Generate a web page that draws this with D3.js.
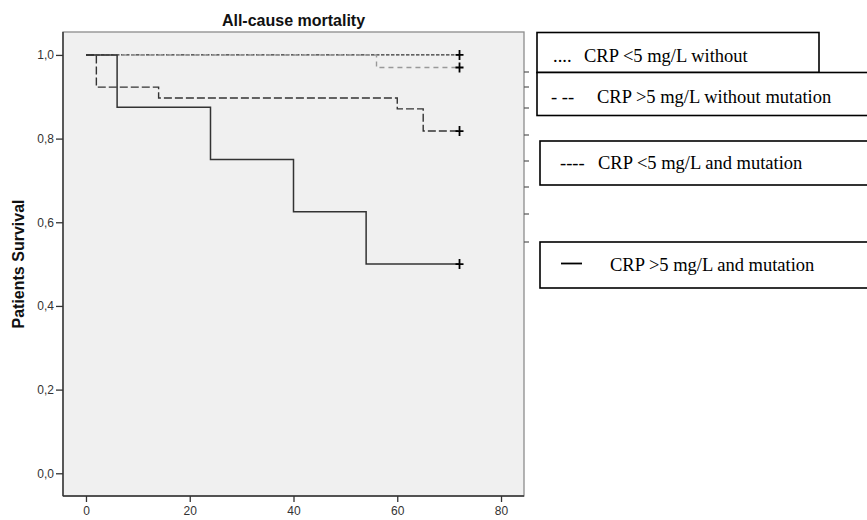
<!DOCTYPE html>
<html>
<head>
<meta charset="utf-8">
<script src="https://cdnjs.cloudflare.com/ajax/libs/d3/7.8.5/d3.min.js"></script>
<style>
  body { margin: 0; background: #fff; }
  svg { display: block; }
</style>
</head>
<body>
<div id="chart"></div>
<script>
var svgWidth = 867;
var svgHeight = 520;

// survival data (months, cumulative survival)
var dottedTime = [0, 72];
var dottedSurv = [1, 1];
var grayTime = [0, 56, 72];
var graySurv = [1, 0.97, 0.97];
var longTime = [0, 2, 14, 60, 65, 72];
var longSurv = [1, 0.923, 0.897, 0.871, 0.818, 0.818];
var solidTime = [0, 6, 24, 40, 54, 72];
var solidSurv = [1, 0.875, 0.75, 0.625, 0.5, 0.5];

var xTicks = [0, 20, 40, 60, 80];
var yTicks = [0, 0.2, 0.4, 0.6, 0.8, 1.0];

var legendPrefixes = ["....", "- --", "----", ""];
var legendLabels = [
  "CRP <5 mg/L without",
  "CRP >5 mg/L without mutation",
  "CRP <5 mg/L and mutation",
  "CRP >5 mg/L and mutation"
];

var plot = { left: 63, right: 524, top: 32, bottom: 496 };

var svg = d3.select("#chart")
  .append("svg")
  .attr("width", svgWidth)
  .attr("height", svgHeight);

var x = d3.scaleLinear()
  .domain([-4.43, 84.43])
  .range([plot.left, plot.right]);

var y = d3.scaleLinear()
  .domain([-0.0543, 1.0548])
  .range([plot.bottom, plot.top]);

// plot background + border
svg.append("rect")
  .attr("x", plot.left)
  .attr("y", plot.top)
  .attr("width", plot.right - plot.left)
  .attr("height", plot.bottom - plot.top)
  .attr("fill", "#f0f0f0")
  .attr("stroke", "#8c8c8c")
  .attr("stroke-width", 1.3);

// axes
var yAxis = d3.axisLeft(y)
  .tickValues(yTicks)
  .tickSize(7)
  .tickPadding(2)
  .tickFormat(d => d3.format(".1f")(d).replace(".", ","));

var xAxis = d3.axisBottom(x)
  .tickValues(xTicks)
  .tickSize(6)
  .tickPadding(4);

var gy = svg.append("g")
  .attr("transform", `translate(${plot.left},0)`)
  .call(yAxis);
gy.select(".domain").remove();
gy.append("line")
  .attr("x1", 0).attr("x2", 0)
  .attr("y1", plot.top).attr("y2", plot.bottom)
  .attr("stroke", "#333").attr("stroke-width", 1.4);

var gx = svg.append("g")
  .attr("transform", `translate(0,${plot.bottom})`)
  .call(xAxis);
gx.select(".domain").remove();
gx.append("line")
  .attr("x1", plot.left).attr("x2", plot.right)
  .attr("y1", 0).attr("y2", 0)
  .attr("stroke", "#333").attr("stroke-width", 1.4);

svg.selectAll(".tick line").attr("stroke", "#333").attr("stroke-width", 1.3);
svg.selectAll(".tick text")
  .attr("font-family", "Liberation Sans, Arial, sans-serif")
  .attr("font-size", "12px")
  .attr("fill", "#333");

// curves
var line = d3.line()
  .x(d => x(d[0]))
  .y(d => y(d[1]))
  .curve(d3.curveStepAfter);

var series = [
  { t: dottedTime, s: dottedSurv, color: "#333", dash: "3.5,1.5", width: 1.2 },
  { t: grayTime, s: graySurv, color: "#999", dash: "5,4", width: 1.4 },
  { t: longTime, s: longSurv, color: "#333", dash: "8,3", width: 1.4 },
  { t: solidTime, s: solidSurv, color: "#333", dash: null, width: 1.5 }
];

series.forEach(function(sr) {
  var pts = sr.t.map((t, i) => [t, sr.s[i]]);
  svg.append("path")
    .datum(pts)
    .attr("d", line)
    .attr("fill", "none")
    .attr("stroke", sr.color)
    .attr("stroke-width", sr.width)
    .attr("stroke-dasharray", sr.dash);

  // censor mark
  var last = pts[pts.length - 1];
  var cx = x(last[0]), cy = y(last[1]);
  svg.append("path")
    .attr("d", `M${cx - 4},${cy}H${cx + 4}M${cx},${cy - 5}V${cy + 5}`)
    .attr("stroke", "#000")
    .attr("stroke-width", 1.8);
});

// title
svg.append("text")
  .attr("x", (plot.left + plot.right) / 2)
  .attr("y", 26)
  .attr("text-anchor", "middle")
  .attr("font-family", "Liberation Sans, Arial, sans-serif")
  .attr("font-weight", "bold")
  .attr("font-size", "16px")
  .attr("fill", "#111")
  .text("All-cause mortality");

// y label
svg.append("text")
  .attr("transform", `translate(24, ${(plot.top + plot.bottom) / 2}) rotate(-90)`)
  .attr("text-anchor", "middle")
  .attr("font-family", "Liberation Sans, Arial, sans-serif")
  .attr("font-weight", "bold")
  .attr("font-size", "16px")
  .attr("fill", "#111")
  .text("Patients Survival");

// stray ticks right of the plot
[72, 87, 108, 135, 161, 187, 214, 242].forEach(function(py) {
  svg.append("line")
    .attr("x1", plot.right).attr("x2", plot.right + 5)
    .attr("y1", py).attr("y2", py)
    .attr("stroke", "#555").attr("stroke-width", 1.2);
});

// legend boxes
var boxes = [
  { x: 537, y: 32.5, w: 282, h: 40, px: 553, tx: 584, ty: 62 },
  { x: 537, y: 72.5, w: 340, h: 43, px: 551, tx: 597, ty: 103 },
  { x: 540, y: 141, w: 340, h: 44, px: 560, tx: 598, ty: 169 },
  { x: 540, y: 242, w: 340, h: 46, px: 0, tx: 610, ty: 271 }
];

var leg = svg.append("g")
  .attr("font-family", "Liberation Serif, Times New Roman, serif")
  .attr("font-size", "18.5px")
  .attr("fill", "#000");

boxes.forEach(function(b, i) {
  leg.append("rect")
    .attr("x", b.x).attr("y", b.y)
    .attr("width", b.w).attr("height", b.h)
    .attr("fill", "#fff")
    .attr("stroke", "#000")
    .attr("stroke-width", 1.6);
  if (legendPrefixes[i]) {
    leg.append("text")
      .attr("x", b.px).attr("y", b.ty)
      .text(legendPrefixes[i]);
  }
  leg.append("text")
    .attr("x", b.tx).attr("y", b.ty)
    .text(legendLabels[i]);
});
leg.append("line")
  .attr("x1", 561).attr("x2", 582)
  .attr("y1", 263.5).attr("y2", 263.5)
  .attr("stroke", "#000").attr("stroke-width", 1.8);
</script>
</body>
</html>
